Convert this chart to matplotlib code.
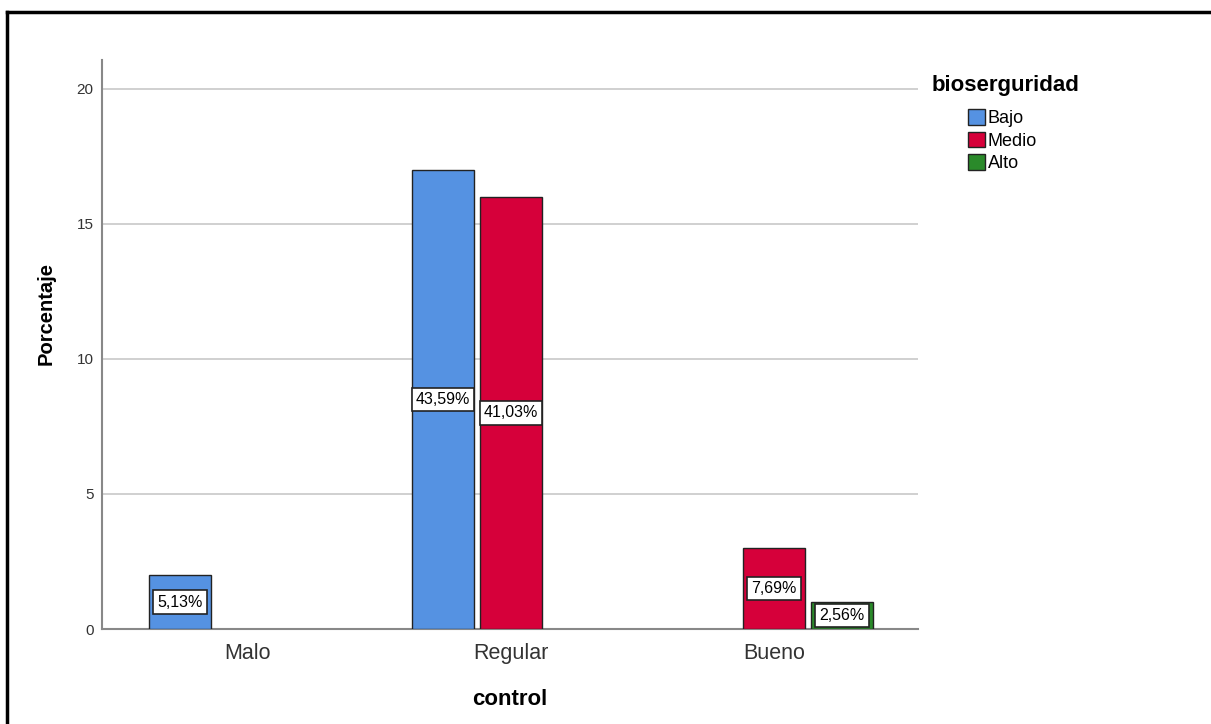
import matplotlib
matplotlib.use('Agg')
import matplotlib.pyplot as plt
import numpy as np
from matplotlib.patches import Patch
from matplotlib.lines import Line2D

plt.rcParams['font.family'] = ['Liberation Sans', 'DejaVu Sans']

categories = ['Malo', 'Regular', 'Bueno']
series = ['Bajo', 'Medio', 'Alto']
# bar heights per series (nan = no bar)
bajo = [2, 17, np.nan]
medio = [np.nan, 16, 3]
alto = [np.nan, np.nan, 1]
bajo_lbl = ['5,13%', '43,59%', '']
medio_lbl = ['', '41,03%', '7,69%']
alto_lbl = ['', '', '2,56%']
yticks = [0, 5, 10, 15, 20]

colors = ['#5592e2', '#d6003a', '#2a8a2a']

fig = plt.figure(figsize=(12.11, 7.24), dpi=100)
ax = fig.add_axes([0.0842, 0.1312, 0.6738, 0.786])

x = np.arange(len(categories))
slot = 0.2586
width = 0.236
for i, (vals, lbls) in enumerate(zip([bajo, medio, alto], [bajo_lbl, medio_lbl, alto_lbl])):
    pos = x + (i - 1) * slot
    ax.bar(pos, vals, width, color=colors[i], edgecolor='#222222', linewidth=1, zorder=3)
    for p, v, t in zip(pos, vals, lbls):
        if t:
            ax.text(p, v / 2, t, ha='center', va='center', fontsize=11.5, zorder=4,
                    bbox=dict(boxstyle='square,pad=0.26', fc='white', ec='#222222', lw=1.2))

ax.set_xlim(-0.555, 2.547)
ax.set_ylim(0, 21.07)
ax.set_xticks(x)
ax.set_xticklabels(categories, fontsize=15.5, color='#333333')
ax.set_yticks(yticks)
ax.set_yticklabels([str(t) for t in yticks], fontsize=11, color='#333333')
ax.tick_params(axis='x', length=0, pad=10)
ax.tick_params(axis='y', length=0, pad=6)
ax.yaxis.grid(True, color='#c8c8c8', linewidth=1.2, zorder=0)
ax.set_axisbelow(True)
for s in ['top', 'right']:
    ax.spines[s].set_visible(False)
for s in ['left', 'bottom']:
    ax.spines[s].set_color('#888888')
    ax.spines[s].set_linewidth(1.5)

ax.set_xlabel('control', fontsize=16, fontweight='bold', labelpad=18)
ax.set_ylabel('Porcentaje', fontsize=14.5, fontweight='bold')
ax.yaxis.set_label_coords(-0.0565, 0.554)

# legend title and entries
fig.text(932 / 1211, 1 - 86 / 724, 'bioserguridad', fontsize=16, fontweight='bold',
         ha='left', va='center')
handles = [Patch(facecolor=c, edgecolor='#222222', linewidth=1) for c in colors]
leg = fig.legend(handles, series, loc='upper left',
                 bbox_to_anchor=(959 / 1211, 1 - 100 / 724), frameon=False, fontsize=13,
                 handlelength=0.95, handleheight=0.95, handletextpad=0.15,
                 labelspacing=0.26, borderpad=0)

# outer frame
fig.add_artist(Line2D([0.0058, 1.0], [1 - 12 / 724, 1 - 12 / 724], transform=fig.transFigure,
                      color='black', linewidth=2.5))
fig.add_artist(Line2D([0.0058, 0.0058], [0, 1 - 12 / 724], transform=fig.transFigure,
                      color='black', linewidth=2.5))

fig.savefig('out.png', dpi=100)
